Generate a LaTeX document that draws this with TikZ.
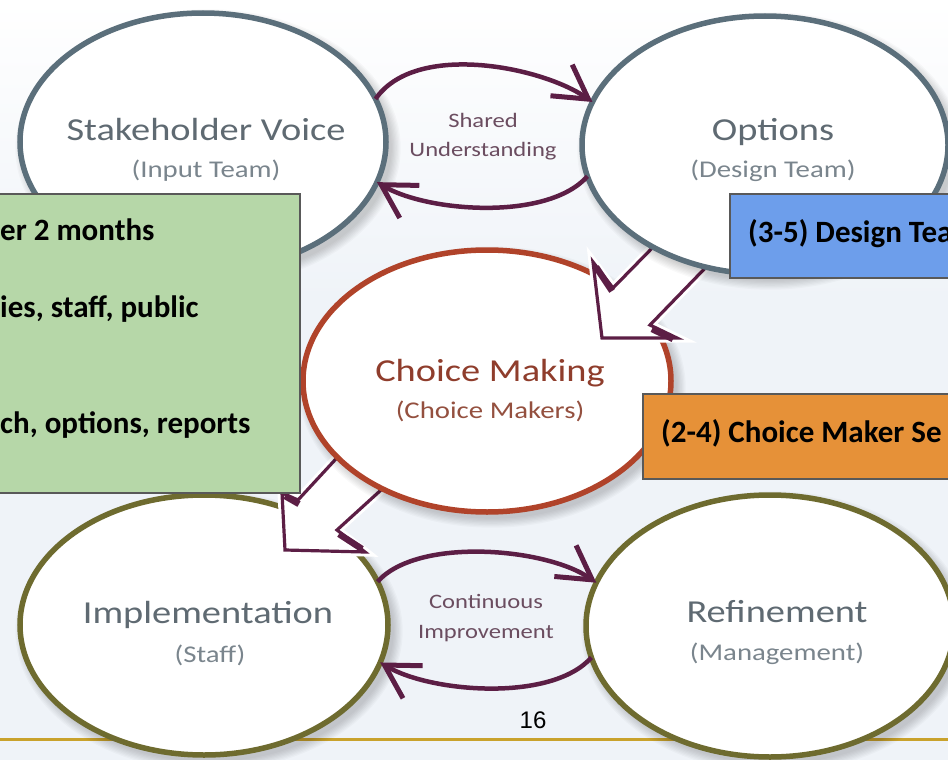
\documentclass[tikz,border=0pt]{standalone}
\usepackage{fontspec}
\setmainfont{Carlito}
\newfontfamily\diag[FakeStretch=1.2]{Carlito}
\newfontfamily\arialf{Liberation Sans}
\usetikzlibrary{arrows.meta,shapes.geometric}
\definecolor{slate}{HTML}{5B6F7B}
\definecolor{rust}{HTML}{B0432A}
\definecolor{olive}{HTML}{6E6B2F}
\definecolor{plum}{HTML}{5C1E45}
\definecolor{txtgray}{HTML}{5F6A72}
\definecolor{subgray}{HTML}{7A858D}
\definecolor{choicetxt}{HTML}{8F3D2C}
\definecolor{choicesub}{HTML}{94503F}
\definecolor{midtxt}{HTML}{6B4D60}
\definecolor{bgblue}{HTML}{EFF3F8}
\definecolor{gold}{HTML}{C9A22C}
\definecolor{boxgreen}{HTML}{B6D7A8}
\definecolor{boxblue}{HTML}{6D9EEB}
\definecolor{boxorange}{HTML}{E69138}
\definecolor{boxline}{HTML}{595959}
\newcommand\softshadow[4]{%
  \foreach \k in {1,...,8}{\fill[black,opacity=0.022] (#1+5,#2+6) ellipse [x radius=#3+11-\k*1.3, y radius=#4+11-\k*1.3];}}
\tikzset{
  bubble/.style={ellipse, fill=white, line width=5.5pt, inner sep=0pt, outer sep=0pt},
  mainlbl/.style={anchor=base, inner sep=0pt, font=\diag\fontsize{32}{38}\selectfont, text=txtgray},
  sublbl/.style={anchor=base, inner sep=0pt, font=\diag\fontsize{24}{29}\selectfont, text=subgray},
  midlbl/.style={anchor=base, inner sep=0pt, font=\diag\fontsize{20.5}{25}\selectfont, text=midtxt},
  boxtxt/.style={anchor=base west, inner sep=0pt, font=\bfseries\fontsize{31}{37}\selectfont, text=black},
  cyclearrow/.style={plum, line width=4.5pt, -{Straight Barb[length=33pt,width=38pt,line width=5pt]}},
  blockarrow/.style={fill=white, draw=plum, line width=3.2pt, line join=miter, preaction={draw=white, line width=9pt}},
  bevel/.style={draw=plum, line width=6.5pt, line cap=butt},
  notebox/.style={draw=boxline, line width=1.5pt, inner sep=0pt}
}
\begin{document}
\begin{tikzpicture}[x=1pt,y=-1pt]
\useasboundingbox (0,0) rectangle (948,760);
\clip (0,0) rectangle (948,760);
% background
\fill[bgblue] (0,0) rectangle (948,760);
\shade[top color=white, bottom color=bgblue] (0,0) rectangle (948,300);
\draw[gold, line width=3pt] (0,739) -- (948,739);
\node[anchor=base, inner sep=0pt, font=\arialf\fontsize{24}{28}\selectfont] (pg) at (533,728) {16};
% bottom ellipses
\softshadow{204}{625}{184}{130}
\node[bubble, draw=olive, minimum width=368pt, minimum height=260pt] (im) at (204,625) {};
\softshadow{770}{626}{184}{131}
\node[bubble, draw=olive, minimum width=368pt, minimum height=262pt] (rf) at (770,626) {};
\draw[cyclearrow] (im.14) .. controls +(40,-45) and +(-50,-35) .. (rf.166);
\draw[cyclearrow] (rf.190) .. controls +(-40,45) and +(50,30) .. (im.-12);
% arrow choice -> implementation
\draw[blockarrow] (346,448) -- (298,500) -- (282,493) -- (285,550) -- (365,552) -- (337,530) -- (392,480);
\draw[bevel] (285,496) -- (299,504);
\draw[bevel] (339,534) -- (362,549);
% choice ellipse
\softshadow{487}{381}{184}{131}
\node[bubble, draw=rust, minimum width=368pt, minimum height=262pt] (cm) at (487,381) {};
% arrow options -> choice
\draw[blockarrow] (661,239) -- (613,288) -- (593,262) -- (602,338) -- (677,338) -- (650,325) -- (712,261);
\draw[bevel] (596,267) -- (612,291);
\draw[bevel] (652,329) -- (673,339);
% top ellipses
\softshadow{765}{145}{183}{129}
\node[bubble, draw=slate, minimum width=366pt, minimum height=258pt] (op) at (765,145) {};
\softshadow{203}{142}{183}{129}
\node[bubble, draw=slate, minimum width=366pt, minimum height=258pt] (sv) at (203,142) {};
\draw[cyclearrow] (sv.14) .. controls +(40,-58) and +(-50,-35) .. (op.166);
\draw[cyclearrow] (op.190) .. controls +(-40,45) and +(50,30) .. (sv.-13);
% labels
\node[mainlbl] (svt) at (206,140) {Stakeholder Voice};
\node[sublbl] (svs) at (206,177) {(Input Team)};
\node[mainlbl] (opt) at (773,140) {Options};
\node[sublbl] (ops) at (773,177) {(Design Team)};
\node[mainlbl, text=choicetxt] (cmt) at (490,381) {Choice Making};
\node[sublbl, text=choicesub] (cms) at (490,418) {(Choice Makers)};
\node[mainlbl] (imt) at (208,623) {Implementation};
\node[sublbl] (ims) at (210,662) {(Staff)};
\node[mainlbl] (rft) at (777,622) {Refinement};
\node[sublbl] (rfs) at (777,660) {(Management)};
\node[midlbl] (su1) at (483,127) {Shared};
\node[midlbl] (su2) at (483,156) {Understanding};
\node[midlbl] (ci1) at (486,608) {Continuous};
\node[midlbl] (ci2) at (486,638) {Improvement};
% boxes
\node[notebox, fill=boxgreen, anchor=north east, minimum width=310pt, minimum height=299pt] (gbox) at (300.5,193) {};
\node[boxtxt] (g1) at (0,240) {er 2 months};
\node[boxtxt] (g2) at (0,317) {ies, staff, public};
\node[boxtxt] (g3) at (0,433) {ch, options, reports};
\node[notebox, fill=boxblue, anchor=north west, minimum width=240pt, minimum height=84pt] (bbox) at (729,193) {};
\node[boxtxt] (b1) at (748,242) {(3-5) Design Tea};
\node[notebox, fill=boxorange, anchor=north west, minimum width=320pt, minimum height=85pt] (obox) at (642,393) {};
\node[boxtxt] (o1) at (661,442) {(2-4) Choice Maker Se};
\end{tikzpicture}
\end{document}
